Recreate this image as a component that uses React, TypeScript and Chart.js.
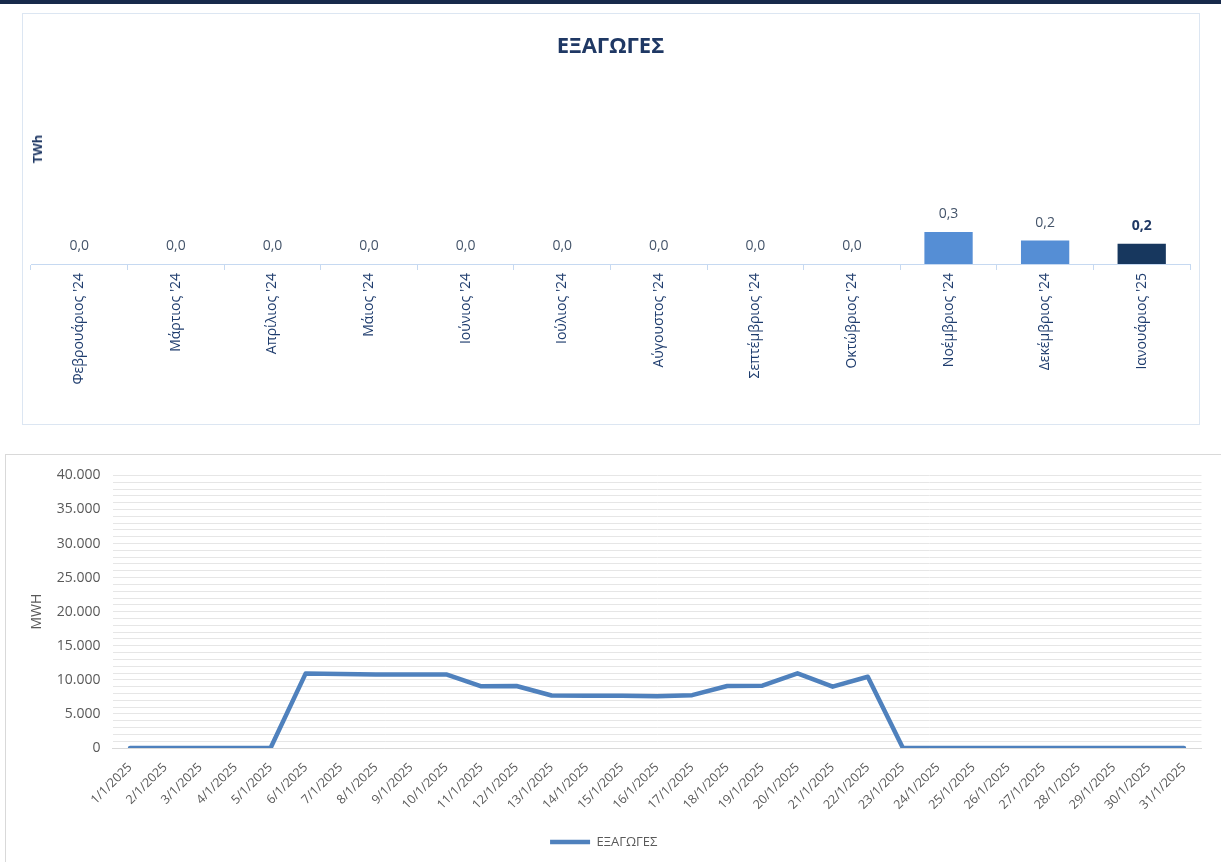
import React, { useEffect, useRef } from 'react';
import { Chart, registerables } from 'chart.js';

Chart.register(...registerables);

const FAMILY = "'Open Sans', 'Noto Sans', sans-serif";

// ---- Monthly (bar) chart data ----
const monthLabels: string[] = [
  "Φεβρουάριος '24",
  "Μάρτιος '24",
  "Απρίλιος '24",
  "Μάιος '24",
  "Ιούνιος '24",
  "Ιούλιος '24",
  "Αύγουστος '24",
  "Σεπτέμβριος '24",
  "Οκτώβριος '24",
  "Νοέμβριος '24",
  "Δεκέμβριος '24",
  "Ιανουάριος '25",
];
const monthlyTWh: number[] = [0, 0, 0, 0, 0, 0, 0, 0, 0, 0.3, 0.22, 0.19];

// ---- Daily (line) chart data ----
const dayLabels: string[] = [
  '1/1/2025', '2/1/2025', '3/1/2025', '4/1/2025', '5/1/2025', '6/1/2025', '7/1/2025',
  '8/1/2025', '9/1/2025', '10/1/2025', '11/1/2025', '12/1/2025', '13/1/2025', '14/1/2025',
  '15/1/2025', '16/1/2025', '17/1/2025', '18/1/2025', '19/1/2025', '20/1/2025', '21/1/2025',
  '22/1/2025', '23/1/2025', '24/1/2025', '25/1/2025', '26/1/2025', '27/1/2025', '28/1/2025',
  '29/1/2025', '30/1/2025', '31/1/2025',
];
const dailyMWh: number[] = [
  0, 0, 0, 0, 0, 10950, 10850, 10800, 10800, 10800, 9050, 9100, 7700, 7650, 7650, 7600,
  7750, 9100, 9150, 10950, 9000, 10450, 0, 0, 0, 0, 0, 0, 0, 0, 0,
];
const yTickStep = 1000;
const yLabelStep = 5000;
const seriesName = 'ΕΞΑΓΩΓΕΣ';

const fmtComma1 = (v: number) => v.toFixed(1).replace('.', ',');
const fmtThousands = (v: number) =>
  String(Math.round(v)).replace(/\B(?=(\d{3})+(?!\d))/g, '.');

const barValueLabels = {
  id: 'barValueLabels',
  afterDatasetsDraw(chart: any) {
    const { ctx } = chart;
    const meta = chart.getDatasetMeta(0);
    const data = chart.data.datasets[0].data as number[];
    ctx.save();
    ctx.textAlign = 'center';
    ctx.textBaseline = 'middle';
    meta.data.forEach((bar: any, i: number) => {
      const last = i === data.length - 1;
      ctx.font = `${last ? 'bold ' : ''}14px ${FAMILY}`;
      ctx.fillStyle = last ? '#1f3864' : '#44546a';
      ctx.fillText(fmtComma1(data[i]), bar.x, bar.y - 18);
    });
    ctx.restore();
  },
};

export default function App() {
  const barRef = useRef<HTMLCanvasElement>(null);
  const lineRef = useRef<HTMLCanvasElement>(null);

  useEffect(() => {
    const bar = new Chart(barRef.current as HTMLCanvasElement, {
      type: 'bar',
      data: {
        labels: monthLabels,
        datasets: [
          {
            label: seriesName,
            data: monthlyTWh,
            backgroundColor: (c: any) =>
              c.dataIndex === monthlyTWh.length - 1 ? '#17375e' : '#558ed5',
            barPercentage: 0.5,
            categoryPercentage: 1,
          },
        ],
      },
      options: {
        responsive: false,
        animation: false,
        layout: { padding: { left: 8, right: 9, top: 0, bottom: 0 } },
        plugins: {
          legend: { display: false },
          tooltip: { enabled: false },
          title: {
            display: true,
            text: seriesName,
            color: '#1f3864',
            font: { size: 22, weight: 'bold', family: FAMILY },
            padding: { top: 20, bottom: 44 },
          },
        },
        scales: {
          x: {
            grid: {
              display: true,
              drawOnChartArea: false,
              drawTicks: true,
              tickLength: 6,
              color: '#c6d9f1',
              offset: true,
            },
            border: { display: true, color: '#c6d9f1' },
            ticks: {
              minRotation: 90,
              maxRotation: 90,
              autoSkip: false,
              color: '#1f3d6e',
              font: { size: 14, family: FAMILY },
              padding: 3,
            },
            afterFit: (s: any) => {
              s.height = 160;
            },
          },
          y: { display: false, min: 0, max: 1.5 },
        },
      } as any,
      plugins: [barValueLabels],
    });

    const line = new Chart(lineRef.current as HTMLCanvasElement, {
      type: 'line',
      data: {
        labels: dayLabels,
        datasets: [
          {
            label: seriesName,
            data: dailyMWh,
            borderColor: '#4f81bd',
            backgroundColor: '#4f81bd',
            borderWidth: 4.5,
            pointRadius: 0,
            tension: 0,
            borderCapStyle: 'round',
            borderJoinStyle: 'round',
            fill: false,
          },
        ],
      },
      options: {
        responsive: false,
        animation: false,
        layout: { padding: { left: 0, right: 18.5, top: 20, bottom: 2.5 } },
        plugins: {
          tooltip: { enabled: false },
          legend: {
            display: true,
            position: 'bottom',
            labels: {
              usePointStyle: true,
              pointStyle: 'line',
              pointStyleWidth: 40,
              boxHeight: 13,
              color: '#595959',
              font: { size: 13, family: FAMILY },
              padding: 10,
            },
          },
        },
        scales: {
          x: {
            offset: true,
            grid: { display: false },
            border: { display: true, color: '#d9d9d9' },
            ticks: {
              minRotation: 45,
              maxRotation: 45,
              autoSkip: false,
              color: '#595959',
              font: { size: 12.5, family: FAMILY },
              padding: 4,
            },
            afterFit: (s: any) => {
              s.height = 77.5;
            },
          },
          y: {
            min: 0,
            max: 40000,
            grid: { color: '#e6e6e6', drawTicks: false },
            border: { display: false },
            ticks: {
              stepSize: yTickStep,
              maxTicksLimit: 100,
              autoSkip: false,
              color: '#595959',
              font: { size: 14, family: FAMILY },
              padding: 12,
              callback: (v: any) => (Number(v) % yLabelStep === 0 ? fmtThousands(Number(v)) : ''),
            },
            title: {
              display: true,
              text: 'MWH',
              color: '#595959',
              font: { size: 14, family: FAMILY },
              padding: { top: 23, bottom: 0 },
            },
            afterFit: (s: any) => {
              s.width = 106.5;
            },
          },
        },
      } as any,
    });

    return () => {
      bar.destroy();
      line.destroy();
    };
  }, []);

  return (
    <div
      style={{
        position: 'fixed',
        left: 0,
        top: 0,
        width: 1221,
        height: 862,
        overflow: 'hidden',
        background: '#ffffff',
      }}
    >
      <div
        style={{ position: 'absolute', left: 0, top: 0, width: 1221, height: 4, background: '#172a4b' }}
      />
      <div
        style={{
          position: 'absolute',
          left: 22,
          top: 13,
          width: 1176,
          height: 410,
          border: '1px solid #dce6f2',
        }}
      >
        <canvas ref={barRef} width={1176} height={410} style={{ display: 'block' }} />
        <div
          style={{
            position: 'absolute',
            left: 14,
            top: 135,
            transform: 'translate(-50%, -50%) rotate(-90deg)',
            fontFamily: FAMILY,
            fontWeight: 'bold',
            fontSize: 13,
            color: '#1f3864',
            whiteSpace: 'nowrap',
          }}
        >
          TWh
        </div>
      </div>
      <div
        style={{
          position: 'absolute',
          left: 5,
          top: 454,
          width: 1240,
          height: 420,
          border: '1px solid #d9d9d9',
        }}
      >
        <canvas ref={lineRef} width={1214} height={406} style={{ display: 'block' }} />
      </div>
    </div>
  );
}
